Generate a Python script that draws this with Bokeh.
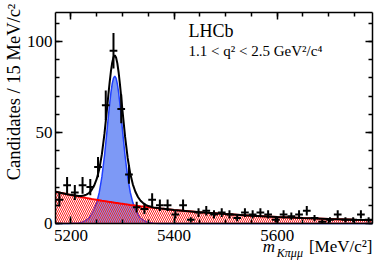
import math
from bokeh.plotting import figure
from bokeh.models import Range1d, LinearAxis, SingleIntervalTicker, Label
from bokeh.embed import file_html
from bokeh.resources import INLINE

# ---- data ----
bin_centers = [5177.5, 5192.5, 5207.5, 5222.5, 5237.5, 5252.5, 5267.5, 5282.5, 5297.5,
               5312.5, 5327.5, 5342.5, 5357.5, 5372.5, 5387.5, 5402.5, 5417.5, 5432.5,
               5447.5, 5462.5, 5477.5, 5492.5, 5507.5, 5522.5, 5537.5, 5552.5, 5567.5,
               5582.5, 5597.5, 5612.5, 5627.5, 5642.5, 5657.5, 5672.5, 5687.5, 5702.5,
               5717.5, 5732.5, 5747.5, 5762.5, 5777.5]
counts = [13, 21, 17, 21, 20, 31, 65, 95, 63, 27, 9, 8, 13, 10, 10, 5, 10, 2,
          6, 7, 5, 6, 5, 3, 6, 5, 6, 5, 2, 5, 4, 5, 7, 3, 1, 2, 5, 2, 2, 5, 2]
bin_half_width = 7.5

# fit curves sampled at these masses
fit_mass = [5170, 5195, 5215, 5220, 5225, 5230, 5235, 5240, 5245, 5250, 5255, 5260,
            5265, 5270, 5272.5, 5275, 5277.5, 5280, 5282.5, 5285, 5287.5, 5290,
            5292.5, 5295, 5297.5, 5300, 5305, 5310, 5315, 5320, 5325, 5330, 5335,
            5340, 5345, 5350, 5360, 5375, 5400, 5450, 5500, 5550, 5600, 5650, 5700,
            5750, 5785]
fit_signal = [0, 0, 0.3, 0.6, 1.1, 1.9, 3.0, 4.9, 7.6, 11.5, 17.2, 25.6,
              37.1, 51.1, 58.6, 65.6, 71.9, 76.8, 79.9, 81.0, 79.9, 76.8,
              71.9, 65.6, 58.6, 51.1, 37.1, 25.6, 17.2, 11.5, 7.6, 4.9, 3.0,
              1.9, 1.1, 0.6, 0.15, 0, 0, 0, 0, 0, 0, 0, 0,
              0, 0]
fit_background = [17.5, 15.95, 14.8, 14.5, 14.28, 14.0, 13.76, 13.5, 13.26, 13.0, 12.78, 12.54,
                  12.31, 12.09, 11.98, 11.87, 11.76, 11.65, 11.54, 11.43, 11.32, 11.22,
                  11.12, 11.02, 10.92, 10.82, 10.62, 10.42, 10.23, 10.05, 9.86, 9.68, 9.5,
                  9.33, 9.16, 8.99, 8.66, 8.2, 7.47, 6.21, 5.16, 4.29, 3.56, 2.96, 2.46,
                  2.05, 1.8]
fit_total = [s + b for s, b in zip(fit_signal, fit_background)]
zeros = [0] * len(fit_mass)

# axis extents of the plot box
x_lo, x_hi = 5170, 5785
y_lo, y_hi = 0, 116

SERIF = "Liberation Serif"

# The frame spans the whole canvas; the visible box is drawn by axes at fixed locations,
# so the axis titles placed around it are not clipped.
p = figure(width=392, height=266, x_range=Range1d(5063.3, 5823.8), y_range=Range1d(-23.64, 122.6),
           output_backend="svg", toolbar_location=None,
           min_border_left=0, min_border_right=0, min_border_top=0, min_border_bottom=0,
           x_axis_location=None, y_axis_location=None)
p.xgrid.visible = False
p.ygrid.visible = False
p.outline_line_color = None
p.background_fill_color = "white"
p.border_fill_color = "white"

# signal (blue) from 0
p.varea(x=fit_mass, y1=zeros, y2=fit_signal, fill_color="#7d99f6", fill_alpha=1.0)
p.line(fit_mass, fit_signal, line_color="#2040ff", line_width=1.5)
# background (red hatched) on top
p.varea(x=fit_mass, y1=zeros, y2=fit_background, fill_color=None, fill_alpha=0,
        hatch_pattern="left_diagonal_line", hatch_color="#ff2020", hatch_weight=1.0,
        hatch_scale=4)
p.line(fit_mass, fit_background, line_color="#ff0000", line_width=2)
# total fit
p.line(fit_mass, fit_total, line_color="black", line_width=2)

# data with errors
err = [math.sqrt(c) for c in counts]
p.segment(x0=bin_centers, x1=bin_centers, y0=[c - e for c, e in zip(counts, err)],
          y1=[c + e for c, e in zip(counts, err)], line_color="black", line_width=2)
p.segment(x0=[x - bin_half_width for x in bin_centers], x1=[x + bin_half_width for x in bin_centers],
          y0=counts, y1=counts, line_color="black", line_width=2)


def style(ax, labels=True):
    ax.major_tick_in = 7
    ax.major_tick_out = 0
    ax.minor_tick_in = 4
    ax.minor_tick_out = 0
    ax.axis_line_color = "black"
    ax.axis_line_width = 1.5
    ax.major_tick_line_width = 1.5
    ax.minor_tick_line_width = 1.5
    ax.major_label_text_font = SERIF
    ax.major_label_text_font_size = "17px"
    ax.major_label_text_color = "black"
    ax.major_label_standoff = 6
    if not labels:
        ax.major_label_text_color = None


xb = LinearAxis(ticker=SingleIntervalTicker(interval=200, num_minor_ticks=4),
                fixed_location=y_lo, bounds=(x_lo, x_hi))
style(xb)
p.add_layout(xb, "below")
xt = LinearAxis(ticker=SingleIntervalTicker(interval=200, num_minor_ticks=4),
                fixed_location=y_hi, bounds=(x_lo, x_hi))
style(xt, labels=False)
p.add_layout(xt, "above")
yl = LinearAxis(ticker=SingleIntervalTicker(interval=50, num_minor_ticks=5),
                fixed_location=x_lo, bounds=(y_lo, y_hi))
style(yl)
yl.major_label_standoff = 3
p.add_layout(yl, "left")
yr = LinearAxis(ticker=SingleIntervalTicker(interval=50, num_minor_ticks=5),
                fixed_location=x_hi, bounds=(y_lo, y_hi))
style(yr, labels=False)
p.add_layout(yr, "right")

# texts
p.add_layout(Label(x=5428, y=100.2, text="LHCb", text_font=SERIF, text_font_size="18px",
                   text_color="black"))
p.add_layout(Label(x=5428, y=90.7, text="1.1 < q² < 2.5 GeV²/c⁴", text_font=SERIF,
                   text_font_size="15px", text_color="black"))
p.add_layout(Label(x=5089.5, y=120.9, text="Candidates / 15 MeV/c²", angle=math.pi / 2,
                   text_align="right", text_baseline="middle", text_font=SERIF,
                   text_font_size="18.5px", text_color="black"))
p.add_layout(Label(x=5785, y=-18.1, text="[MeV/c²]", text_align="right", text_font=SERIF,
                   text_font_size="17px", text_color="black"))
p.add_layout(Label(x=5650, y=-20.0, text="Kπμμ", text_align="right", text_font=SERIF,
                   text_font_style="italic", text_font_size="12px", text_color="black"))
p.add_layout(Label(x=5596, y=-18.1, text="m", text_align="right", text_font=SERIF,
                   text_font_style="italic", text_font_size="17px", text_color="black"))

open("out.html", "w").write(file_html(p, INLINE))
